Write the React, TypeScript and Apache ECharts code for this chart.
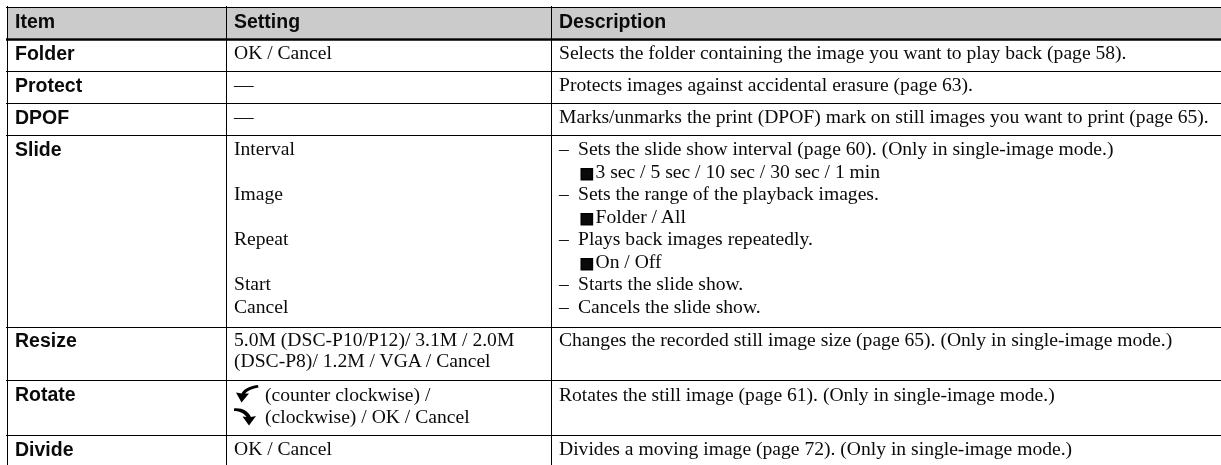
import React, { useEffect, useRef } from "react";
import * as echarts from "echarts";

const headers = ["Item", "Setting", "Description"];
const items = ["Folder", "Protect", "DPOF", "Slide", "Resize", "Rotate", "Divide"];
const settings = [
  "OK / Cancel",
  "—",
  "—",
  "Interval",
  "Image",
  "Repeat",
  "Start",
  "Cancel",
  "5.0M (DSC-P10/P12)/ 3.1M / 2.0M",
  "(DSC-P8)/ 1.2M / VGA / Cancel",
  "(counter clockwise) /",
  "(clockwise) / OK / Cancel",
  "OK / Cancel",
];
const descriptions = [
  "Selects the folder containing the image you want to play back (page 58).",
  "Protects images against accidental erasure (page 63).",
  "Marks/unmarks the print (DPOF) mark on still images you want to print (page 65).",
  "–",
  "Sets the slide show interval (page 60). (Only in single-image mode.)",
  "3 sec / 5 sec / 10 sec / 30 sec / 1 min",
  "–",
  "Sets the range of the playback images.",
  "Folder / All",
  "–",
  "Plays back images repeatedly.",
  "On / Off",
  "–",
  "Starts the slide show.",
  "–",
  "Cancels the slide show.",
  "Changes the recorded still image size (page 65). (Only in single-image mode.)",
  "Rotates the still image (page 61). (Only in single-image mode.)",
  "Divides a moving image (page 72). (Only in single-image mode.)",
];
const markers = ["■", "■", "■"];

// layout, separate from the content above (baselines)
const itemY = [60, 92, 124, 156, 347, 401, 456];
const settingPos: [number, number][] = [
  [234, 60], [234, 92], [234, 124], [234, 156], [234, 201.5], [234, 246.5], [234, 291.5], [234, 314],
  [234, 347], [234, 368.5], [265, 402], [265, 424], [234, 456],
];
const descPos: [number, number][] = [
  [559, 60], [559, 92], [559, 124],
  [559, 156], [578, 156], [595.5, 179], [559, 201.5], [578, 201.5], [595.5, 224.5],
  [559, 246.5], [578, 246.5], [595.5, 269.5], [559, 291.5], [578, 291.5], [559, 314], [578, 314],
  [559, 347], [559, 402], [559, 456],
];
const markerY = [180.7, 226, 271];
const thinRows = [71, 103, 135, 327, 380, 435];
const colX = [7.5, 226.5, 551.5];

const ARROW_CCW = "M22 0 C14 1 8 4 5.5 8.5 L0 7.5 L5.5 17.5 L13 8.5 L9 8.5 C12 5.5 16 3.5 22.5 2.5 Z";
const ARROW_CW = "M0 1 C7 0 14 3 17 9.5 L22 8.5 L15 18 L8.5 9 L12.5 9.5 C10 6 6 3.5 0 3.5 Z";
echarts.graphic.registerShape("arrowCcw", echarts.graphic.extendPath(ARROW_CCW, {}) as any);
echarts.graphic.registerShape("arrowCw", echarts.graphic.extendPath(ARROW_CW, {}) as any);

const SANS = '"Liberation Sans", Arial, sans-serif';
const SERIF = '"Liberation Serif", "Times New Roman", serif';
const INK = "#0a0a0a";
const SERIF_SIZE = 19.6;
const SANS_SIZE = 19.5;

function txt(text: string, x: number, baseline: number, font: string, size: number, weight: string) {
  return {
    type: "text",
    x,
    y: baseline - 0.895 * size,
    silent: true,
    style: { text, fontFamily: font, fontSize: size, fontWeight: weight, fill: INK, align: "left" },
  };
}
function line(x1: number, y1: number, x2: number, y2: number, w: number) {
  return { type: "line", silent: true, shape: { x1, y1, x2, y2 }, style: { stroke: "#000", lineWidth: w } };
}

export default function App() {
  const ref = useRef<HTMLDivElement>(null);
  useEffect(() => {
    const chart = echarts.init(ref.current!, undefined, { renderer: "svg" });
    const elements: any[] = [];
    elements.push({ type: "rect", silent: true, shape: { x: 7, y: 8, width: 1214, height: 30 }, style: { fill: "#cbcbcb" } });
    elements.push(line(6, 7.5, 1221, 7.5, 1));
    elements.push(line(6, 39.5, 1221, 39.5, 2.5));
    thinRows.forEach((y) => elements.push(line(6, y + 0.5, 1221, y + 0.5, 1)));
    colX.forEach((x) => elements.push(line(x, 6, x, 465, 1)));
    headers.forEach((h, i) => elements.push(txt(h, [15, 234, 559][i], 28, SANS, SANS_SIZE, "bold")));
    items.forEach((t, i) => elements.push(txt(t, 15, itemY[i], SANS, SANS_SIZE, "bold")));
    settings.forEach((t, i) => elements.push(txt(t, settingPos[i][0], settingPos[i][1], SERIF, SERIF_SIZE, "normal")));
    descriptions.forEach((t, i) => elements.push(txt(t, descPos[i][0], descPos[i][1], SERIF, SERIF_SIZE, "normal")));
    markers.forEach((t, i) => {
      const m: any = txt(t, 581, markerY[i], SERIF, SERIF_SIZE, "normal");
      m.style.stroke = "#000";
      m.style.lineWidth = 3.2;
      elements.push(m);
    });
    elements.push({ type: "arrowCcw", x: 236, y: 385, silent: true, style: { fill: "#000" } });
    elements.push({ type: "arrowCw", x: 234, y: 407.5, silent: true, style: { fill: "#000" } });
    chart.setOption({ animation: false, graphic: { elements } });
    return () => chart.dispose();
  }, []);
  return <div ref={ref} style={{ position: "fixed", left: 0, top: 0, width: 1221, height: 465 }} />;
}
